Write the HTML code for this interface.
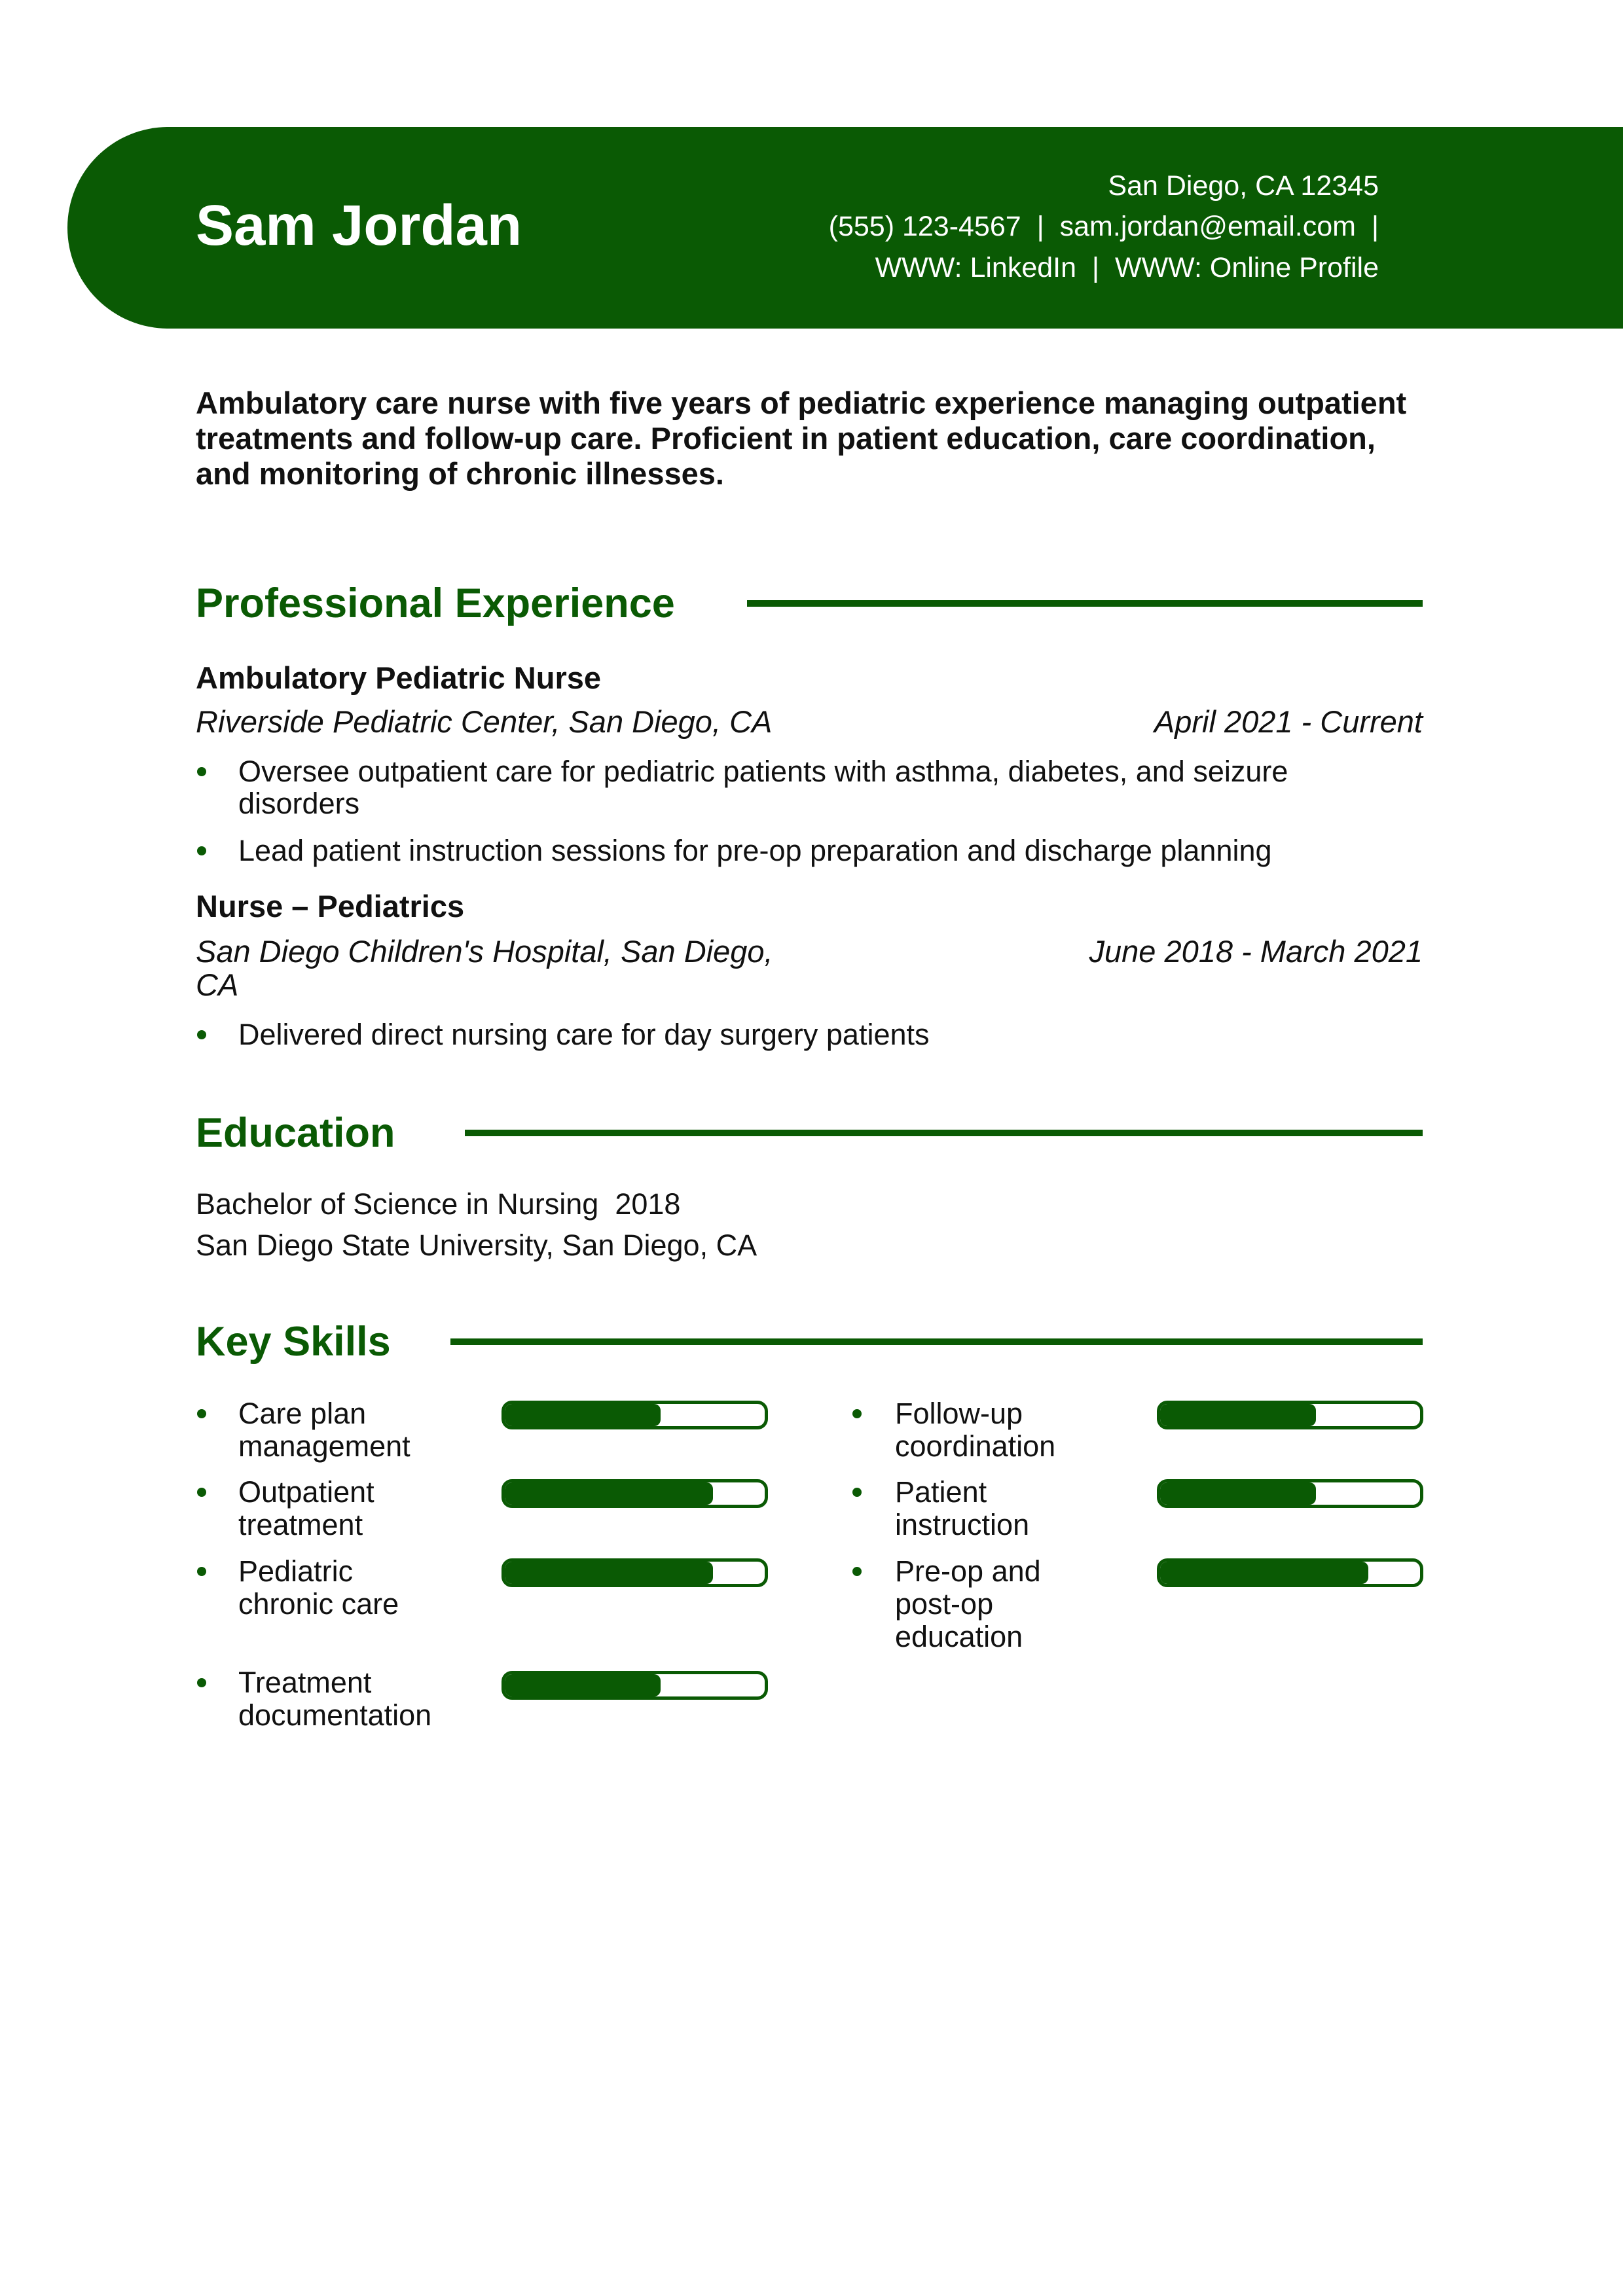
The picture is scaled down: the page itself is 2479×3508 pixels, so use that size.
<!DOCTYPE html>
<html><head><meta charset="utf-8"><style>
*{margin:0;padding:0;box-sizing:border-box}
body{width:2479px;height:3508px;background:#fff;position:relative;overflow:hidden;font-family:"Liberation Sans",sans-serif;color:#111}
.a{position:absolute;white-space:nowrap}
.band{position:absolute;left:103px;top:194px;width:2376px;height:308px;background:#0a5a04;border-radius:154px 0 0 154px}
.name{left:299px;top:290px;font-size:87px;font-weight:bold;color:#fff;line-height:110px}
.ct{right:373px;font-size:43px;color:#fff;line-height:60px;text-align:right}
.sum{left:299px;font-size:47px;font-weight:bold;line-height:54px}
.h{left:299px;font-size:63px;font-weight:bold;color:#0a5a04;line-height:80px}
.rule{position:absolute;height:10px;background:#0a5a04}
.t{font-size:47px;font-weight:bold;line-height:54px}
.i{font-size:47px;font-style:italic;line-height:54px}
.b{font-size:45px;line-height:50px}
.dot{position:absolute;width:14px;height:14px;border-radius:50%;background:#0a5a04}
.bar{position:absolute;width:407px;height:44px;border:5px solid #0a5a04;border-radius:16px;overflow:hidden;background:#fff}
.bar i{display:block;height:100%;background:#0a5a04;border-radius:10px}
</style></head><body>
<div class="band"></div>
<div class="a name">Sam Jordan</div>
<div class="a ct" style="top:254px">San Diego, CA 12345</div>
<div class="a ct" style="top:316px">(555) 123-4567 &nbsp;|&nbsp; sam.jordan@email.com &nbsp;|</div>
<div class="a ct" style="top:379px">WWW: LinkedIn &nbsp;|&nbsp; WWW: Online Profile</div>

<div class="a sum" style="top:589px">Ambulatory care nurse with five years of pediatric experience managing outpatient</div>
<div class="a sum" style="top:643px">treatments and follow-up care. Proficient in patient education, care coordination,</div>
<div class="a sum" style="top:697px">and monitoring of chronic illnesses.</div>

<div class="a h" style="top:882px">Professional Experience</div>
<div class="rule" style="left:1141px;width:1032px;top:917px"></div>

<div class="a t" style="left:299px;top:1009px">Ambulatory Pediatric Nurse</div>
<div class="a i" style="left:299px;top:1076px">Riverside Pediatric Center, San Diego, CA</div>
<div class="a i" style="right:306px;top:1076px">April 2021 - Current</div>
<div class="dot" style="left:301px;top:1172px"></div>
<div class="a b" style="left:364px;top:1154px">Oversee outpatient care for pediatric patients with asthma, diabetes, and seizure</div>
<div class="a b" style="left:364px;top:1203px">disorders</div>
<div class="dot" style="left:301px;top:1293px"></div>
<div class="a b" style="left:364px;top:1275px">Lead patient instruction sessions for pre-op preparation and discharge planning</div>

<div class="a t" style="left:299px;top:1358px">Nurse – Pediatrics</div>
<div class="a i" style="left:299px;top:1427px">San Diego Children's Hospital, San Diego,</div>
<div class="a i" style="left:299px;top:1478px">CA</div>
<div class="a i" style="right:306px;top:1427px">June 2018 - March 2021</div>
<div class="dot" style="left:301px;top:1574px"></div>
<div class="a b" style="left:364px;top:1556px">Delivered direct nursing care for day surgery patients</div>

<div class="a h" style="top:1691px">Education</div>
<div class="rule" style="left:710px;width:1463px;top:1726px"></div>
<div class="a b" style="left:299px;top:1815px">Bachelor of Science in Nursing&nbsp; 2018</div>
<div class="a b" style="left:299px;top:1878px">San Diego State University, San Diego, CA</div>

<div class="a h" style="top:2010px">Key Skills</div>
<div class="rule" style="left:688px;width:1485px;top:2045px"></div>

<div class="dot" style="left:301px;top:2153px"></div>
<div class="a b" style="left:364px;top:2135px">Care plan<br>management</div>
<div class="bar" style="left:766px;top:2140px"><i style="width:60%"></i></div>

<div class="dot" style="left:301px;top:2273px"></div>
<div class="a b" style="left:364px;top:2255px">Outpatient<br>treatment</div>
<div class="bar" style="left:766px;top:2260px"><i style="width:80%"></i></div>

<div class="dot" style="left:301px;top:2394px"></div>
<div class="a b" style="left:364px;top:2376px">Pediatric<br>chronic care</div>
<div class="bar" style="left:766px;top:2381px"><i style="width:80%"></i></div>

<div class="dot" style="left:301px;top:2564px"></div>
<div class="a b" style="left:364px;top:2546px">Treatment<br>documentation</div>
<div class="bar" style="left:766px;top:2553px"><i style="width:60%"></i></div>

<div class="dot" style="left:1302px;top:2153px"></div>
<div class="a b" style="left:1367px;top:2135px">Follow-up<br>coordination</div>
<div class="bar" style="left:1767px;top:2140px"><i style="width:60%"></i></div>

<div class="dot" style="left:1302px;top:2273px"></div>
<div class="a b" style="left:1367px;top:2255px">Patient<br>instruction</div>
<div class="bar" style="left:1767px;top:2260px"><i style="width:60%"></i></div>

<div class="dot" style="left:1302px;top:2394px"></div>
<div class="a b" style="left:1367px;top:2376px">Pre-op and<br>post-op<br>education</div>
<div class="bar" style="left:1767px;top:2381px"><i style="width:80%"></i></div>
</body></html>
